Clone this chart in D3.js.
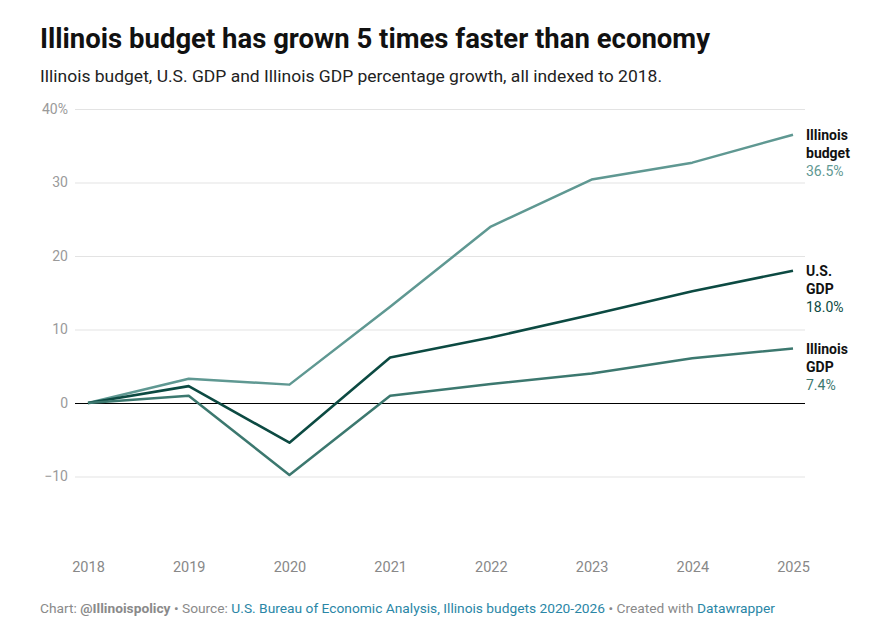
<!DOCTYPE html>
<html>
<head>
<meta charset="utf-8">
<script src="https://cdn.jsdelivr.net/npm/d3@7"></script>
<style>
  body { margin: 0; background: #fff; }
  svg { font-family: Roboto, "Noto Sans", sans-serif; }
</style>
</head>
<body>
<svg width="881" height="626"></svg>
<script>
// DATA
const years = [2018, 2019, 2020, 2021, 2022, 2023, 2024, 2025];
const budget = [0, 3.3, 2.5, 13.1, 24.0, 30.4, 32.7, 36.5];
const usGdp = [0, 2.3, -5.4, 6.2, 8.9, 12.0, 15.2, 18.0];
const ilGdp = [0, 1.0, -9.8, 1.0, 2.6, 4.0, 6.1, 7.4];
const yTicks = [-10, 0, 10, 20, 30, 40];

const series = [
  { name: ["Illinois", "budget"], values: budget, color: "#5f9892", width: 2.5 },
  { name: ["U.S.", "GDP"], values: usGdp, color: "#0c4a42", width: 2.6 },
  { name: ["Illinois", "GDP"], values: ilGdp, color: "#3c786f", width: 2.5 }
];

const svg = d3.select("svg");

// TITLE
svg.append("text")
    .attr("x", 40)
    .attr("y", 48)
    .attr("font-size", "27.5px")
    .attr("font-weight", "bold")
    .attr("fill", "#111")
    .attr("textLength", 670)
    .attr("lengthAdjust", "spacingAndGlyphs")
    .text("Illinois budget has grown 5 times faster than economy");

svg.append("text")
    .attr("x", 40)
    .attr("y", 82)
    .attr("font-size", "17px")
    .attr("fill", "#222")
    .attr("textLength", 622)
    .attr("lengthAdjust", "spacingAndGlyphs")
    .text("Illinois budget, U.S. GDP and Illinois GDP percentage growth, all indexed to 2018.");

// SCALE
const x = d3.scaleLinear().domain([2018, 2025]).range([88, 793]);
const y = d3.scaleLinear().domain([-20, 40]).range([550, 109]);

// GRID + Y AXIS
const yAxis = svg.append("g")
    .attr("transform", "translate(75,0)")
    .call(d3.axisLeft(y)
        .tickValues(yTicks)
        .tickSize(-730)
        .tickPadding(7)
        .tickFormat(d => d === 40 ? "40%" : (d < 0 ? "\u2212" + Math.abs(d) : d)));
yAxis.select(".domain").remove();
yAxis.selectAll("line")
    .attr("stroke", d => d === 0 ? "#000" : "#e3e3e3")
    .attr("stroke-width", d => d === 0 ? 1 : 1.2);
yAxis.selectAll("text")
    .attr("font-size", "14px")
    .attr("fill", "#9a9a9a")
    .attr("font-family", "Roboto, sans-serif");
// zero line sits on top
yAxis.selectAll(".tick").filter(d => d === 0).raise();

// X AXIS
const xAxis = svg.append("g")
    .attr("transform", "translate(0,550)")
    .call(d3.axisBottom(x)
        .tickValues(years)
        .tickSize(0)
        .tickPadding(12)
        .tickFormat(d3.format("d")));
xAxis.select(".domain").remove();
xAxis.selectAll("text")
    .attr("font-size", "14.5px")
    .attr("fill", "#888")
    .attr("font-family", "Roboto, sans-serif");

// LINES
const line = d3.line()
    .x((d, i) => x(years[i]))
    .y(d => y(d));

svg.append("g").selectAll("path")
    .data(series)
    .join("path")
    .attr("d", d => line(d.values))
    .attr("fill", "none")
    .attr("stroke", d => d.color)
    .attr("stroke-width", d => d.width)
    .attr("stroke-linejoin", "round");

// LABELS
const labels = svg.append("g").selectAll("text")
    .data(series)
    .join("text")
    .attr("x", 806)
    .attr("y", d => y(d.values[d.values.length - 1]) + 5)
    .attr("font-size", "14px");

labels.each(function (d) {
    const t = d3.select(this);
    d.name.forEach((n, i) => {
        t.append("tspan")
            .attr("x", 806)
            .attr("dy", i === 0 ? 0 : 18)
            .attr("font-weight", "bold")
            .attr("fill", "#111")
            .text(n);
    });
    t.append("tspan")
        .attr("x", 806)
        .attr("dy", 18)
        .attr("fill", d.color)
        .text(d.values[d.values.length - 1].toFixed(1) + "%");
});

// FOOTER
const foot = svg.append("text")
    .attr("x", 40)
    .attr("y", 613)
    .attr("font-size", "13px")
    .attr("fill", "#8a8a8a")
    .attr("textLength", 735)
    .attr("lengthAdjust", "spacingAndGlyphs");
foot.append("tspan").text("Chart: ");
foot.append("tspan").attr("font-weight", "bold").text("@Illinoispolicy");
foot.append("tspan").text(" \u2022 Source: ");
foot.append("tspan").attr("fill", "#2a86a6").text("U.S. Bureau of Economic Analysis, Illinois budgets 2020-2026");
foot.append("tspan").text(" \u2022 Created with ");
foot.append("tspan").attr("fill", "#2a86a6").text("Datawrapper");
</script>
</body>
</html>
